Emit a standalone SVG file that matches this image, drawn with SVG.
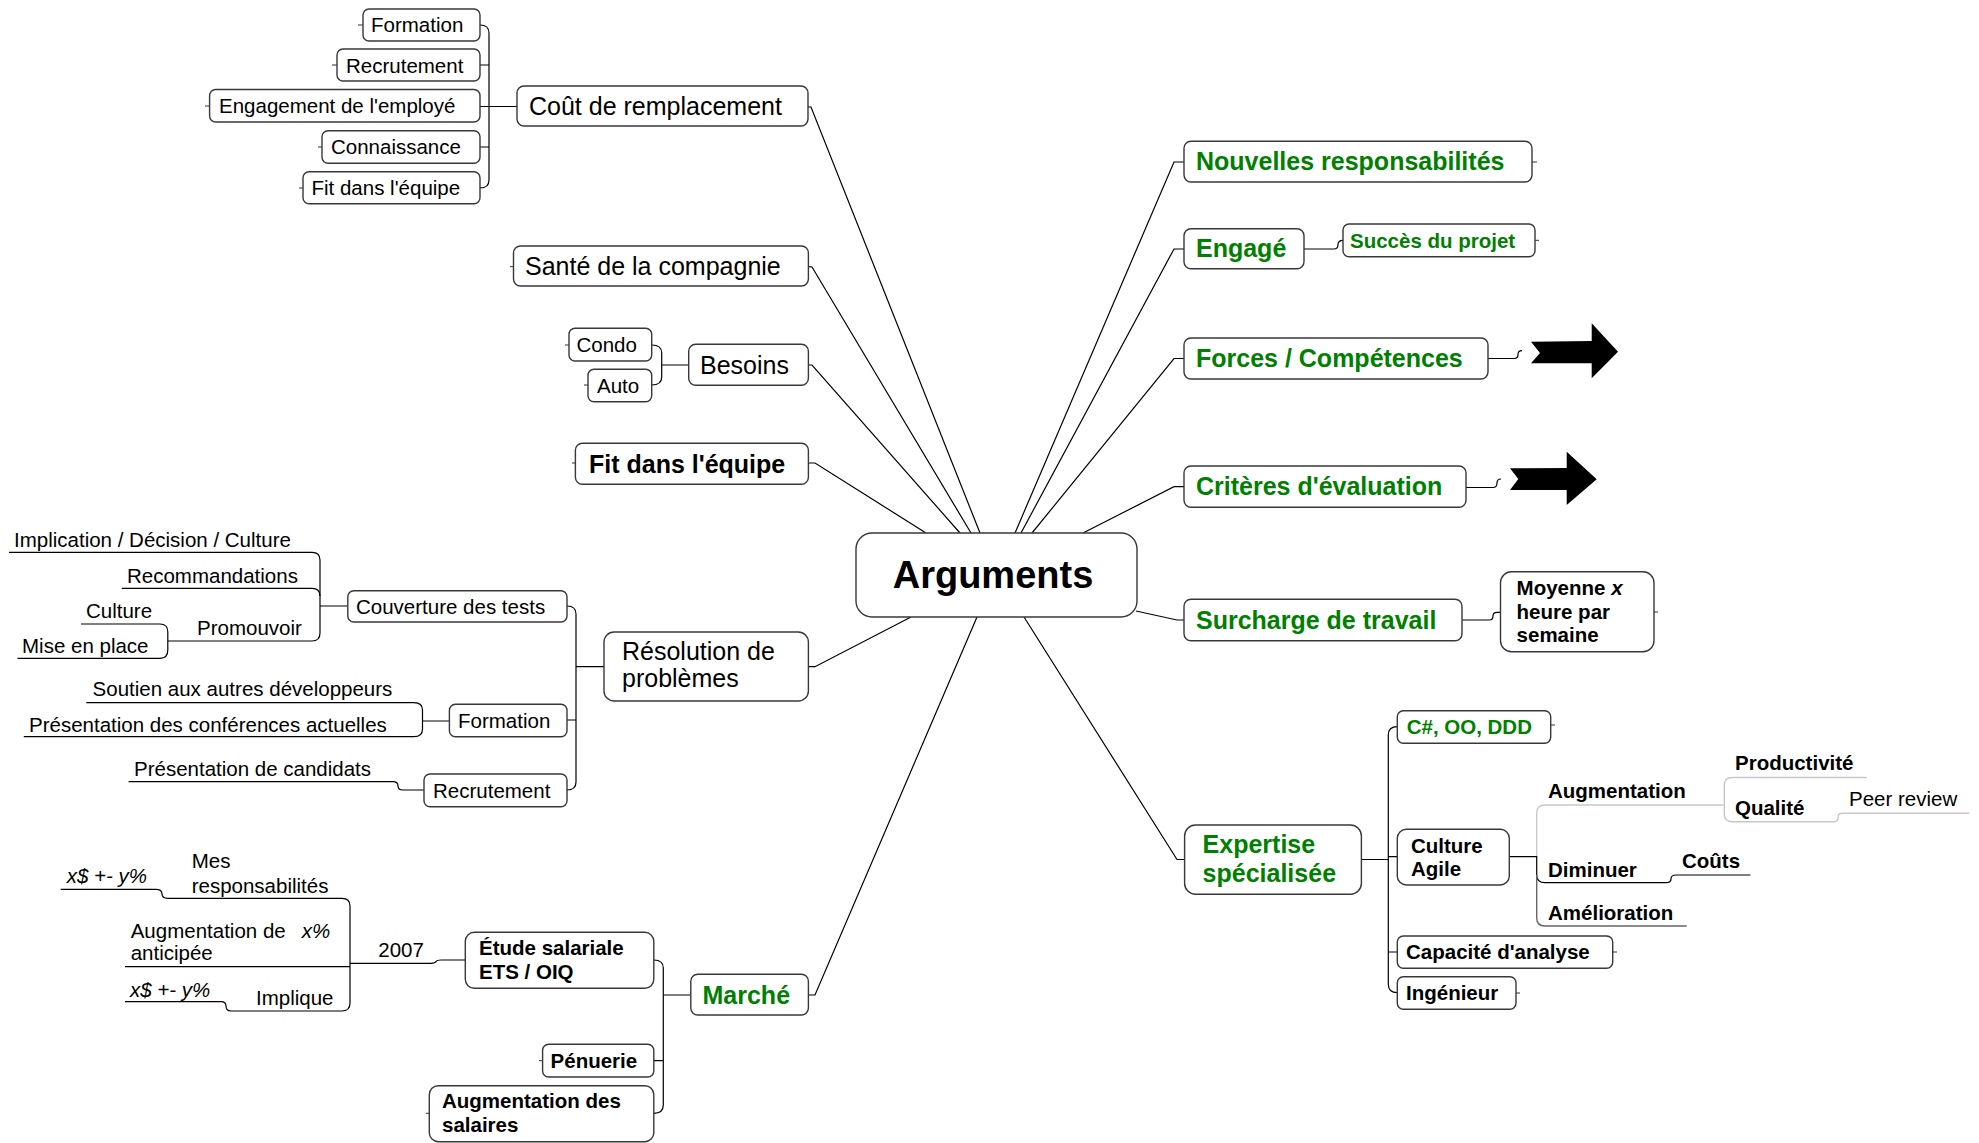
<svg xmlns="http://www.w3.org/2000/svg" width="1979" height="1143" viewBox="0 0 1979 1143">
<style>
text{font-family:"Liberation Sans",Arial,sans-serif;fill:#000}
.r{font-size:20.5px}
.R{font-size:25px}
.b{font-size:20.5px;font-weight:bold}
.B{font-size:25px;font-weight:bold}
.g{fill:#008000}
.i{font-style:italic}
.box{fill:#fff;stroke:#383838;stroke-width:1.4}
.ln{fill:none;stroke:#000;stroke-width:1.2}
.lg{fill:none;stroke:#c8c8c8;stroke-width:1.4}
.lm{fill:none;stroke:#666;stroke-width:1.4}
.st{fill:none;stroke:#333;stroke-width:1}
</style>
<rect width="1979" height="1143" fill="#fff"/>

<g id="connectors">
<!-- central spokes -->
<path class="ln" d="M808,107 L811,107 L980,533"/>
<path class="ln" d="M808,266.7 L812,267 L971,533"/>
<path class="ln" d="M808,365 L812,365 L960,533"/>
<path class="ln" d="M808,463 L815,463 L926,533"/>
<path class="ln" d="M808,666.7 L815,666.7 L911,617"/>
<path class="ln" d="M808,995 L815,995 L977,617"/>
<path class="ln" d="M1015,533 L1174,162 L1184,162"/>
<path class="ln" d="M1021,533 L1174,249 L1184,249"/>
<path class="ln" d="M1032,533 L1174,358.5 L1184,358.5"/>
<path class="ln" d="M1083,533 L1174,486.7 L1184,486.7"/>
<path class="ln" d="M1136,611 L1177,620 L1184,620"/>
<path class="ln" d="M1024,617 L1177,859.5 L1185,859.5"/>
<!-- Coût bracket -->
<path class="ln" d="M480,25 Q489,25 489,33 V180 Q489,188 480,188"/>
<path class="ln" d="M480,65 H489 M480,147 H489 M480,106.5 H517"/>
<!-- Besoins bracket -->
<path class="ln" d="M651.7,345 Q661.7,345 661.7,353 V377 Q661.7,385 651.7,385 M661.7,365 H688.7"/>
<!-- Résolution bracket -->
<path class="ln" d="M567,606 Q576,606 576,614 V782 Q576,790 567,790 M567,720 H576 M576,666.7 H604"/>
<!-- Couverture subtree -->
<path class="ln" d="M9,552.3 H312 Q320,552.3 320,560 V633 Q320,641 312,641 H167.8"/>
<path class="ln" d="M121.8,588.3 H312 Q320,588.3 320,596 M320,606 H347.8"/>
<path class="ln" d="M81,624 H160 Q167.8,624 167.8,632 V650 Q167.8,658.3 160,658.3 H17.5"/>
<!-- Formation subtree -->
<path class="ln" d="M86.3,702.7 H414 Q422.5,702.7 422.5,710 V729 Q422.5,736.7 414,736.7 H23.8 M422.5,721 H449.4"/>
<!-- Recrutement subtree -->
<path class="ln" d="M128.6,781.7 H393 Q398,781.7 398,786 Q398,790 403,790 H424"/>
<!-- Marché bracket -->
<path class="ln" d="M653.8,960 Q663.3,960 663.3,968 V1105 Q663.3,1113.3 653.8,1113.3 M653.8,1060.7 H663.3 M663.3,995 H690.8"/>
<!-- Étude subtree -->
<path class="ln" d="M465,960 H441 Q437,960 436,961.5 Q435,963.3 431,963.3 H350"/>
<path class="ln" d="M60.7,889.3 H156 Q162,889.3 162,894 Q162,898.3 168,898.3 H342 Q350,898.3 350,906 V1003 Q350,1011 342,1011 H231 Q226,1011 226,1006 Q226,1001.7 221,1001.7 H125"/>
<path class="ln" d="M125,966.7 H350"/>
<!-- Engagé / Forces / Critères / Surcharge -->
<path class="ln" d="M1304,249 H1334 Q1338,249 1338,244.5 Q1338,240.3 1343,240.3"/>
<path class="ln" d="M1488,358.5 H1514 Q1518,358.5 1518,354.5 Q1518,350.7 1522,350.7"/>
<path class="ln" d="M1466,487.5 H1493 Q1497,487.5 1497,483 Q1497,479 1501,479"/>
<path class="ln" d="M1462,620 H1489.5 Q1493,620 1493,616 Q1493,612.3 1497,612.3 H1500.5"/>
<!-- Expertise bracket -->
<path class="ln" d="M1361.4,859.5 H1388.3 M1397.3,726.7 Q1388.3,726.7 1388.3,735 V984 Q1388.3,992.7 1397.3,992.7 M1388.3,856.7 H1397.3 M1388.3,952 H1397.3"/>
<!-- Culture Agile subtree -->
<path class="lg" d="M1723.6,805 H1545 Q1536.7,805 1536.7,813 V856.7"/>
<path class="lg" d="M1866.5,777.5 H1732 Q1724.3,777.5 1724.3,785 V814 Q1724.3,821.7 1732,821.7 H1834 Q1838,821.7 1838,817.5 Q1838,813.3 1842,813.3 H1969.3"/>
<path class="ln" d="M1509.3,856.7 H1536.7 V875 Q1536.7,882.7 1545,882.7 H1666 Q1671,882.7 1671,879 Q1671,875 1676,875 H1750.4"/>
<path class="lm" d="M1536.7,875 V918 Q1536.7,926 1545,926 H1686.7"/>
<!-- stubs -->
<path class="st" d="M363,25 H358 M337,65 H332 M209.6,106 H205 M322,147 H318 M303,188 H299 M513.5,266.7 H510 M569,345 H565 M588,385 H584 M575.4,463 H572 M542.6,1060.7 H539 M429.3,1113.3 H426 M1532,162 H1537 M1535,240.3 H1539 M1654,612 H1658 M1551,725 H1555 M1613,952 H1617 M1516,993 H1520"/>
</g>

<g id="arguments">
<rect class="box" x="856" y="533" width="281" height="84" rx="16"/>
<text x="993" y="588" text-anchor="middle" style="font-size:38px;font-weight:bold">Arguments</text>
</g>

<g id="cout">
<rect class="box" x="517" y="86" width="291" height="40" rx="7"/>
<text class="R" x="529" y="115">Coût de remplacement</text>
</g>
<g id="cout-formation"><rect class="box" x="363" y="9" width="117" height="32" rx="6"/><text class="r" x="371" y="32">Formation</text></g>
<g id="cout-recrutement"><rect class="box" x="337" y="49" width="143" height="32" rx="6"/><text class="r" x="346" y="72.5">Recrutement</text></g>
<g id="cout-engagement"><rect class="box" x="209.6" y="89.5" width="270.4" height="32.5" rx="6"/><text class="r" x="219" y="113.3">Engagement de l'employé</text></g>
<g id="cout-connaissance"><rect class="box" x="322" y="130.7" width="158" height="32.6" rx="6"/><text class="r" x="331" y="154.3">Connaissance</text></g>
<g id="cout-fit"><rect class="box" x="303" y="171.7" width="177" height="32" rx="6"/><text class="r" x="311.5" y="195">Fit dans l'équipe</text></g>

<g id="sante">
<rect class="box" x="513.5" y="246" width="294.9" height="40" rx="7"/>
<text class="R" x="525" y="275">Santé de la compagnie</text>
</g>

<g id="besoins">
<rect class="box" x="688.7" y="344.3" width="119.7" height="41" rx="7"/>
<text class="R" x="700" y="373.5">Besoins</text>
</g>
<g id="condo"><rect class="box" x="569" y="328.3" width="82.7" height="32.7" rx="6"/><text class="r" x="576.5" y="352">Condo</text></g>
<g id="auto"><rect class="box" x="588" y="369.3" width="63.7" height="32.4" rx="6"/><text class="r" x="597" y="393">Auto</text></g>

<g id="fit">
<rect class="box" x="575.4" y="443.3" width="233" height="41" rx="7"/>
<text class="B" x="589" y="472.5">Fit dans l'équipe</text>
</g>

<g id="resolution">
<rect class="box" x="604" y="632" width="204.4" height="69" rx="10"/>
<text class="R" x="622" y="660">Résolution de</text>
<text class="R" x="622" y="687">problèmes</text>
</g>
<g id="couverture"><rect class="box" x="347.8" y="590.7" width="219.2" height="31.3" rx="6"/><text class="r" x="356" y="613.5">Couverture des tests</text></g>
<g id="res-formation"><rect class="box" x="449.4" y="704.3" width="117.6" height="32.4" rx="6"/><text class="r" x="458" y="727.7">Formation</text></g>
<g id="res-recrutement"><rect class="box" x="424" y="774" width="143" height="32.7" rx="6"/><text class="r" x="433" y="797.5">Recrutement</text></g>
<g id="cov-leaves">
<text class="r" x="14" y="546.7">Implication / Décision / Culture</text>
<text class="r" x="127" y="582.7">Recommandations</text>
<text class="r" x="86" y="618.3">Culture</text>
<text class="r" x="197" y="635">Promouvoir</text>
<text class="r" x="22" y="653.3">Mise en place</text>
<text class="r" x="92.6" y="696">Soutien aux autres développeurs</text>
<text class="r" x="29" y="731.7">Présentation des conférences actuelles</text>
<text class="r" x="134" y="776">Présentation de candidats</text>
</g>

<g id="marche">
<rect class="box" x="690.8" y="974.3" width="117.6" height="40.7" rx="7"/>
<text class="B g" x="702.5" y="1003.5">Marché</text>
</g>
<g id="etude"><rect class="box" x="465.3" y="932.3" width="188.5" height="56" rx="9"/><text class="b" x="479" y="955">Étude salariale</text><text class="b" x="479" y="979.3">ETS / OIQ</text></g>
<g id="penuerie"><rect class="box" x="542.6" y="1044.3" width="111.2" height="32.7" rx="6"/><text class="b" x="550.6" y="1068">Pénuerie</text></g>
<g id="aug-salaires"><rect class="box" x="429.3" y="1085.7" width="224.5" height="56" rx="9"/><text class="b" x="442" y="1108.3">Augmentation des</text><text class="b" x="442" y="1131.7">salaires</text></g>
<g id="etude-leaves">
<text class="r" x="378.3" y="957.3">2007</text>
<text class="r" x="191.7" y="868.3">Mes</text>
<text class="r" x="191.7" y="893.3">responsabilités</text>
<text class="r i" x="66.7" y="883.3">x$ +- y%</text>
<text class="r" x="130.7" y="938.3">Augmentation de <tspan class="i" x="301.7">x%</tspan></text>
<text class="r" x="130.7" y="960">anticipée</text>
<text class="r i" x="130" y="996.7">x$ +- y%</text>
<text class="r" x="256" y="1005">Implique</text>
</g>

<g id="nouvelles">
<rect class="box" x="1184" y="141.3" width="348" height="40.7" rx="7"/>
<text class="B g" x="1196" y="170.4">Nouvelles responsabilités</text>
</g>
<g id="engage">
<rect class="box" x="1184" y="228.7" width="120" height="40" rx="7"/>
<text class="B g" x="1196" y="257.4">Engagé</text>
</g>
<g id="succes"><rect class="box" x="1343" y="224" width="192" height="32.7" rx="6"/><text class="b g" x="1350" y="247.5">Succès du projet</text></g>
<g id="forces">
<rect class="box" x="1184" y="338" width="304" height="41" rx="7"/>
<text class="B g" x="1196" y="367.2">Forces / Compétences</text>
</g>
<g id="forces-arrow"><polygon points="1531,341.7 1591.7,341 1591.7,323.3 1618,351.7 1591.7,378.3 1591.7,363.3 1531,363.3 1540,353" fill="#000"/></g>
<g id="criteres">
<rect class="box" x="1184" y="466" width="282" height="41.3" rx="7"/>
<text class="B g" x="1196" y="495.4">Critères d'évaluation</text>
</g>
<g id="criteres-arrow"><polygon points="1510,468.3 1566.7,468 1566.7,451.7 1596.7,479.3 1566.7,505 1566.7,490 1510,490 1518.3,479" fill="#000"/></g>
<g id="surcharge">
<rect class="box" x="1184" y="599.3" width="278" height="41.4" rx="7"/>
<text class="B g" x="1196" y="628.7">Surcharge de travail</text>
</g>
<g id="moyenne"><rect class="box" x="1500.5" y="571.7" width="153.5" height="80" rx="11"/>
<text class="b" x="1516.6" y="594.5">Moyenne <tspan class="i">x</tspan></text>
<text class="b" x="1516.6" y="618.5">heure par</text>
<text class="b" x="1516.6" y="642">semaine</text></g>

<g id="expertise">
<rect class="box" x="1184.6" y="825" width="176.8" height="69.3" rx="11"/>
<text class="B g" x="1202.6" y="853.3">Expertise</text>
<text class="B g" x="1202.6" y="881.7">spécialisée</text>
</g>
<g id="csharp"><rect class="box" x="1397.3" y="710.7" width="153.4" height="32.6" rx="6"/><text class="b g" x="1406.7" y="734.2">C#, OO, DDD</text></g>
<g id="culture-agile"><rect class="box" x="1397.3" y="829.3" width="112" height="55.7" rx="9"/><text class="b" x="1411" y="852.7">Culture</text><text class="b" x="1411" y="875.5">Agile</text></g>
<g id="capacite"><rect class="box" x="1397.3" y="936" width="215.4" height="32.3" rx="6"/><text class="b" x="1406" y="959.3">Capacité d'analyse</text></g>
<g id="ingenieur"><rect class="box" x="1397.3" y="976.7" width="118.7" height="32.6" rx="6"/><text class="b" x="1406" y="1000">Ingénieur</text></g>
<g id="agile-leaves">
<text class="b" x="1548" y="798.3">Augmentation</text>
<text class="b" x="1735" y="770">Productivité</text>
<text class="b" x="1735" y="815">Qualité</text>
<text class="r" x="1849" y="806">Peer review</text>
<text class="b" x="1548" y="876.7">Diminuer</text>
<text class="b" x="1682" y="868.3">Coûts</text>
<text class="b" x="1548" y="920">Amélioration</text>
</g>
</svg>
